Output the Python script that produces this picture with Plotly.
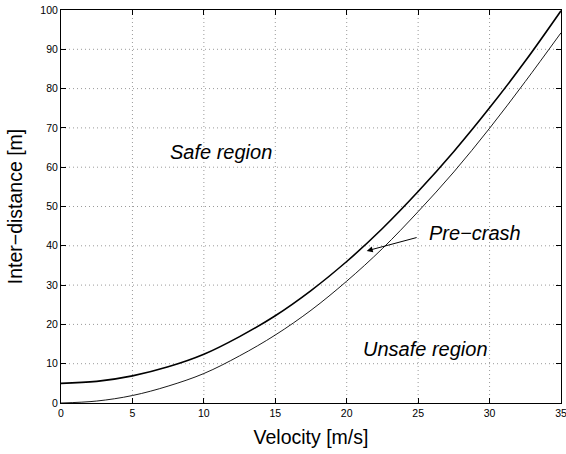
import plotly.graph_objects as go

velocity = [0, 2.5, 5, 7.5, 10, 12.5, 15, 17.5, 20, 22.5, 25, 27.5, 30, 32.5, 35]
precrash_upper = [5.0, 5.5, 6.9, 9.2, 12.4, 16.9, 22.2, 28.6, 36.0, 44.4, 53.8, 64.0, 75.1, 87.0, 99.8]
precrash_lower = [0.0, 0.5, 1.9, 4.3, 7.5, 12.0, 17.3, 23.6, 31.0, 39.3, 48.7, 58.8, 69.9, 81.8, 94.2]

x_ticks = [0, 5, 10, 15, 20, 25, 30, 35]
y_ticks = [0, 10, 20, 30, 40, 50, 60, 70, 80, 90, 100]

FONT = "Liberation Sans, Arial, Helvetica, sans-serif"

fig = go.Figure()
fig.add_trace(go.Scatter(x=velocity, y=precrash_upper, mode="lines",
                         line=dict(color="black", width=1.6, shape="spline"),
                         showlegend=False))
fig.add_trace(go.Scatter(x=velocity, y=precrash_lower, mode="lines",
                         line=dict(color="black", width=0.9, shape="spline"),
                         showlegend=False))

grid_style = dict(color="#9a9a9a", width=1, dash="1px,3px")
for xv in x_ticks[1:-1]:
    fig.add_shape(type="line", x0=xv, x1=xv, y0=0, y1=100, xref="x", yref="y",
                  line=grid_style, layer="below")
for yv in y_ticks[1:-1]:
    fig.add_shape(type="line", x0=0, x1=35, y0=yv, y1=yv, xref="x", yref="y",
                  line=grid_style, layer="below")

axis_common = dict(showline=True, linecolor="black", linewidth=1, mirror="ticks",
                   ticks="inside", ticklen=5, tickcolor="black", showgrid=False,
                   zeroline=False, automargin=False, ticklabeloverflow="allow",
                   tickfont=dict(family=FONT, size=10.5, color="black"))

fig.update_xaxes(range=[0, 35], tickvals=x_ticks, ticktext=[str(v) for v in x_ticks],
                 title=dict(text="Velocity [m/s]", font=dict(family=FONT, size=19.5, color="black"), standoff=12),
                 **axis_common)
fig.update_yaxes(range=[0, 100], tickvals=y_ticks, ticktext=[str(v) for v in y_ticks],
                 title=dict(text="Inter\u2212distance [m]", font=dict(family=FONT, size=19.5, color="black"), standoff=12),
                 **axis_common)

ann_font = dict(family=FONT, size=20, color="black")
fig.add_annotation(x=11.2, y=63.9, text="<i>Safe region</i>", showarrow=False, font=ann_font, xref="x", yref="y")
fig.add_annotation(x=25.5, y=13.7, text="<i>Unsafe region</i>", showarrow=False, font=ann_font, xref="x", yref="y")
fig.add_annotation(x=29.0, y=43.3, text="<i>Pre\u2212crash</i>", showarrow=False, font=ann_font, xref="x", yref="y")
fig.add_annotation(x=21.4, y=38.7, ax=25.0, ay=42.2, xref="x", yref="y", axref="x", ayref="y",
                   text="", showarrow=True, arrowhead=2, arrowsize=1.2, arrowwidth=1, arrowcolor="black")

fig.update_layout(width=566, height=454, margin=dict(l=61, r=5, t=10, b=51),
                  plot_bgcolor="white", paper_bgcolor="white",
                  font=dict(family=FONT, color="black"))

fig.write_html("out.html",
               config={"displayModeBar": False},
               post_script=("document.documentElement.style.overflow='hidden';"
                            "document.body.style.overflow='hidden';"
                            "document.body.style.margin='0';"))
